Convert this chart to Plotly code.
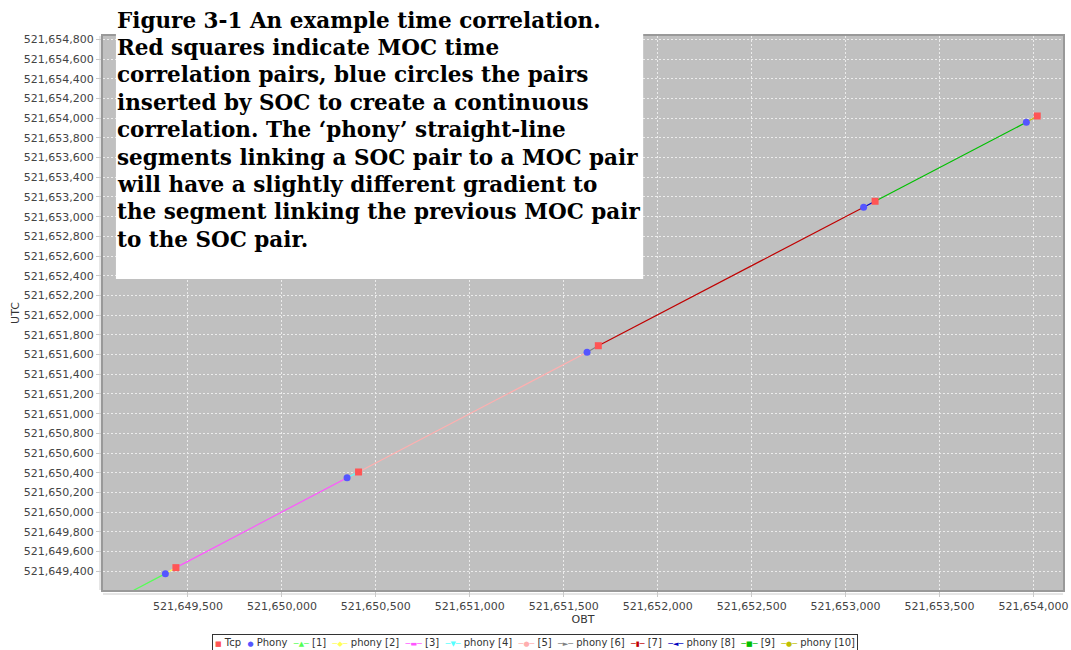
import plotly.graph_objects as go

# ---- data ----
tcp_obt = [521649436, 521650408, 521651684, 521653157, 521654020]
tcp_utc = [521649437, 521650408, 521651690, 521653156, 521654022]
phony_obt = [521649380, 521650347, 521651624, 521653096, 521653962]
phony_utc = [521649376, 521650350, 521651623, 521653095, 521653958]
prev_tcp_obt = 521648990
prev_tcp_utc = 521648985

segment_names = ["[1]", "phony [2]", "[3]", "phony [4]", "[5]", "phony [6]",
                 "[7]", "phony [8]", "[9]", "phony [10]"]
segment_colors = ["#55FF55", "#FFFF55", "#FF55FF", "#55FFFF", "#FFAFAF", "#808080",
                  "#C00000", "#0000C0", "#00C000", "#C0C000"]
legend_names = ["Tcp", "Phony"] + segment_names
legend_colors = ["#FF5555", "#5555FF"] + segment_colors
legend_glyphs = ["\u25A0", "\u25CF", "\u25B2", "\u25C6", "\u25AC", "\u25BC", "\u25CF",
                 "\u25BA", "\u25AE", "\u25C4", "\u25A0", "\u25CF"]

x_ticks_start, x_dtick = 521649500, 500
y_ticks_start, y_dtick = 521649400, 200
x_range = [521649048, 521654157]
y_range = [521649210, 521654834]

caption_lines = [
    "Figure 3-1 An example time correlation.",
    "Red squares indicate MOC time",
    "correlation pairs, blue circles the pairs",
    "inserted by SOC to create a continuous",
    "correlation. The \u2018phony\u2019 straight-line",
    "segments linking a SOC pair to a MOC pair",
    "will have a slightly different gradient to",
    "the segment linking the previous MOC pair",
    "to the SOC pair.",
]

# ---- build segment endpoints: prev Tcp -> Phony0 -> Tcp0 -> Phony1 -> ... ----
chain_x = [prev_tcp_obt]
chain_y = [prev_tcp_utc]
for po, pu, to, tu in zip(phony_obt, phony_utc, tcp_obt, tcp_utc):
    chain_x += [po, to]
    chain_y += [pu, tu]

fig = go.Figure()
for i, (name, color) in enumerate(zip(segment_names, segment_colors)):
    fig.add_trace(go.Scatter(
        x=chain_x[i:i + 2], y=chain_y[i:i + 2], mode="lines", name=name,
        line=dict(color=color, width=1.2), showlegend=False, hoverinfo="skip"))

fig.add_trace(go.Scatter(x=tcp_obt, y=tcp_utc, mode="markers", name="Tcp", showlegend=False,
                         marker=dict(symbol="square", size=7, color="#FF5555")))
fig.add_trace(go.Scatter(x=phony_obt, y=phony_utc, mode="markers", name="Phony", showlegend=False,
                         marker=dict(symbol="circle", size=7, color="#5555FF")))

W, H = 1071, 650
ml, mr, mt, mb = 103, 3, 36, 60
pw, ph = W - ml - mr, H - mt - mb


def px_x(p):
    return (p - ml) / pw


def px_y(p):
    return (H - mb - p) / ph


axis_common = dict(
    showgrid=True, gridcolor="#ececec", griddash="2px,2px", gridwidth=1,
    zeroline=False, showline=True, linecolor="#999999", linewidth=2, mirror=True,
    ticks="outside", ticklen=5, tickcolor="#c8c8c8", tickformat=",d",
    ticklabeloverflow="allow",
    tickfont=dict(family="DejaVu Sans", size=11, color="#444444"),
)

fig.update_layout(
    width=W, height=H,
    margin=dict(l=ml, r=mr, t=mt, b=mb),
    paper_bgcolor="white", plot_bgcolor="#C0C0C0",
    font=dict(family="DejaVu Sans", size=11, color="#333333"),
    xaxis=dict(axis_common, range=x_range, tick0=x_ticks_start, dtick=x_dtick,
               title=dict(text="OBT", font=dict(size=11, color="#333333"), standoff=2)),
    yaxis=dict(axis_common, range=y_range, tick0=y_ticks_start, dtick=y_dtick,
               title=dict(text="UTC", font=dict(size=11, color="#333333"), standoff=2)),
    showlegend=False,
)

# offset axis lines (JFreeChart style)
fig.add_shape(type="line", xref="paper", yref="paper", x0=px_x(100), x1=px_x(100),
              y0=0, y1=1, line=dict(color="#cccccc", width=1), layer="above")
fig.add_shape(type="line", xref="paper", yref="paper", x0=0, x1=1,
              y0=px_y(594), y1=px_y(594), line=dict(color="#cccccc", width=1), layer="above")

# caption box
fig.add_shape(type="rect", xref="paper", yref="paper", x0=px_x(116), x1=px_x(646),
              y0=px_y(279), y1=px_y(-2), fillcolor="white", line=dict(width=0), layer="above")
line_top_center, line_step = 20, 27.4
for k, line in enumerate(caption_lines):
    fig.add_annotation(xref="paper", yref="paper", x=px_x(116),
                       y=px_y(line_top_center + k * line_step),
                       xanchor="left", yanchor="middle", align="left", showarrow=False,
                       text=line, borderpad=0,
                       font=dict(family="DejaVu Serif", size=21.5, color="black", weight="bold"))

# legend strip (JFreeChart style compact legend)
parts = []
for k, (name, color, glyph) in enumerate(zip(legend_names, legend_colors, legend_glyphs)):
    if k < 2:
        sym = f'<span style="color:{color};font-size:7px">{glyph}</span>'
    else:
        sym = (f'<span style="color:{color};font-size:8px">\u2500</span>'
               f'<span style="color:{color};font-size:7px">{glyph}</span>'
               f'<span style="color:{color};font-size:8px">\u2500</span>')
    parts.append(f"{sym} {name}")
fig.add_annotation(xref="paper", yref="paper", x=px_x(537), y=px_y(634),
                   xanchor="center", yanchor="top", showarrow=False,
                   text="\u00a0 ".join(parts), bgcolor="white",
                   bordercolor="#333333", borderwidth=1, borderpad=2,
                   font=dict(family="DejaVu Sans", size=10, color="#333333"))

fig.write_html("out.html", config={"displayModeBar": False},
               post_script="document.body.style.margin='0';document.body.style.padding='0';")
